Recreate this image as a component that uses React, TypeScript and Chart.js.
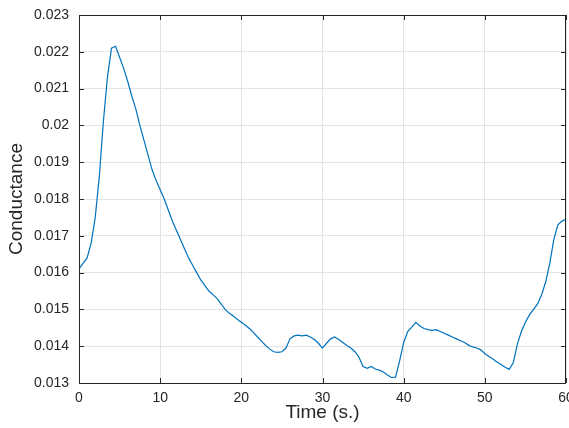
import React, { useEffect, useRef } from "react";
import { Chart, registerables } from "chart.js";

Chart.register(...registerables);

const times: number[] = [
  0, 0.5, 1, 1.5, 2, 2.5, 3, 3.5, 4, 4.5, 5, 5.5, 6, 6.5, 7, 7.5, 8, 8.5, 9, 9.5,
  10, 10.5, 11, 11.5, 12, 12.5, 13, 13.5, 14, 14.5, 15, 15.5, 16, 16.5, 17, 17.5, 18, 18.5, 19, 19.5,
  20, 20.5, 21, 21.5, 22, 22.5, 23, 23.5, 24, 24.5, 25, 25.5, 26, 26.5, 27, 27.5, 28, 28.5, 29, 29.5,
  30, 30.5, 31, 31.5, 32, 32.5, 33, 33.5, 34, 34.5, 35, 35.5, 36, 36.5, 37, 37.5, 38, 38.5, 39, 39.5,
  40, 40.5, 41, 41.5, 42, 42.5, 43, 43.5, 44, 44.5, 45, 45.5, 46, 46.5, 47, 47.5, 48, 48.5, 49, 49.5,
  50, 50.5, 51, 51.5, 52, 52.5, 53, 53.5, 54, 54.5, 55, 55.5, 56, 56.5, 57, 57.5, 58, 58.5, 59, 59.5, 60,
];

const conductance: number[] = [
  0.0161, 0.01625, 0.0164, 0.0168, 0.0175, 0.0186, 0.0201, 0.0213, 0.0221, 0.02215, 0.02185, 0.02155, 0.0212, 0.0208, 0.02045, 0.02, 0.0196, 0.0192, 0.0188, 0.0185,
  0.01825, 0.018, 0.0177, 0.0174, 0.01715, 0.0169, 0.01665, 0.0164, 0.0162, 0.016, 0.0158, 0.01565, 0.0155, 0.0154, 0.0153, 0.01515, 0.015, 0.0149, 0.01482, 0.01473,
  0.01465, 0.01457, 0.01448, 0.01437, 0.01425, 0.01413, 0.01402, 0.01392, 0.01385, 0.01383, 0.01385, 0.01395, 0.0142, 0.01428, 0.0143, 0.01428, 0.0143, 0.01425, 0.01418, 0.01408,
  0.01395, 0.01408, 0.0142, 0.01425, 0.01418, 0.0141, 0.01402, 0.01395, 0.01385, 0.0137, 0.01345, 0.0134, 0.01345, 0.01338, 0.01335, 0.0133, 0.01322, 0.01315, 0.01316, 0.0136,
  0.0141, 0.0144, 0.01452, 0.01465, 0.01455, 0.01448, 0.01445, 0.01443, 0.01445, 0.0144, 0.01435, 0.0143, 0.01425, 0.0142, 0.01415, 0.0141, 0.01403, 0.01398, 0.01395, 0.0139,
  0.0138, 0.01372, 0.01365, 0.01357, 0.0135, 0.01343, 0.01337, 0.01355, 0.01405, 0.0144, 0.01465, 0.01485, 0.015, 0.01515, 0.0154, 0.01575, 0.01625, 0.0169, 0.0173, 0.0174, 0.01745,
];

const xTicks: number[] = [0, 10, 20, 30, 40, 50, 60];
const yTicks: number[] = [0.013, 0.014, 0.015, 0.016, 0.017, 0.018, 0.019, 0.02, 0.021, 0.022, 0.023];

const FONT = "'Liberation Sans', Arial, Helvetica, sans-serif";
const AXIS_COLOR = "#262626";

const boxPlugin = {
  id: "matlabBox",
  afterDatasetsDraw(chart: any) {
    const { ctx, chartArea, scales } = chart;
    const { left, right, top, bottom } = chartArea;
    ctx.save();
    ctx.strokeStyle = AXIS_COLOR;
    ctx.lineWidth = 1;
    ctx.beginPath();
    ctx.rect(Math.round(left) + 0.5, Math.round(top) + 0.5, Math.round(right - left) - 1, Math.round(bottom - top));
    ctx.stroke();
    const tl = 5;
    ctx.beginPath();
    xTicks.forEach((v) => {
      const x = Math.round(scales.x.getPixelForValue(v)) + 0.5;
      ctx.moveTo(x, bottom);
      ctx.lineTo(x, bottom - tl);
      ctx.moveTo(x, top);
      ctx.lineTo(x, top + tl);
    });
    yTicks.forEach((v) => {
      const y = Math.round(scales.y.getPixelForValue(v)) + 0.5;
      ctx.moveTo(left, y);
      ctx.lineTo(left + tl, y);
      ctx.moveTo(right, y);
      ctx.lineTo(right - tl, y);
    });
    ctx.stroke();
    ctx.restore();
  },
};

export default function App() {
  const ref = useRef<HTMLCanvasElement | null>(null);

  useEffect(() => {
    if (!ref.current) return;
    const data = times.map((t, i) => ({ x: t, y: conductance[i] }));
    const chart = new Chart(ref.current, {
      type: "line",
      data: {
        datasets: [
          {
            data,
            borderColor: "#0072BD",
            borderWidth: 1.2,
            pointRadius: 0,
            tension: 0,
            fill: false,
          },
        ],
      },
      options: {
        animation: false,
        responsive: false,
        maintainAspectRatio: false,
        layout: { padding: { top: 15, right: 3, left: 0, bottom: 0 } },
        plugins: { legend: { display: false }, tooltip: { enabled: false } },
        scales: {
          x: {
            type: "linear",
            min: 0,
            max: 60,
            afterBuildTicks: (scale: any) => {
              scale.ticks = xTicks.map((v) => ({ value: v }));
            },
            afterFit: (scale: any) => {
              scale.height = 45;
              scale.paddingRight = 0;
              scale.paddingLeft = 0;
            },
            grid: { color: "#e3e3e3", lineWidth: 1, drawTicks: false },
            border: { display: false },
            ticks: {
              color: AXIS_COLOR,
              font: { family: FONT, size: 14 },
              padding: 7,
              maxRotation: 0,
              callback: (v: any) => String(v),
            },
            title: {
              display: true,
              text: "Time (s.)",
              color: AXIS_COLOR,
              font: { family: FONT, size: 19 },
              padding: { top: 0, bottom: 4 },
            },
          },
          y: {
            type: "linear",
            min: 0.013,
            max: 0.023,
            afterBuildTicks: (scale: any) => {
              scale.ticks = yTicks.map((v) => ({ value: v }));
            },
            afterFit: (scale: any) => {
              scale.width = 79;
              scale.paddingTop = 0;
              scale.paddingBottom = 0;
            },
            grid: { color: "#e3e3e3", lineWidth: 1, drawTicks: false },
            border: { display: false },
            ticks: {
              color: AXIS_COLOR,
              font: { family: FONT, size: 14 },
              padding: 10,
              callback: (v: any) => String(Number(Number(v).toFixed(3))),
            },
            title: {
              display: true,
              text: "Conductance",
              color: AXIS_COLOR,
              font: { family: FONT, size: 19 },
              padding: { top: 5, bottom: 0 },
            },
          },
        },
      },
      plugins: [boxPlugin],
    });
    return () => chart.destroy();
  }, []);

  return (
    <div style={{ position: "fixed", left: 0, top: 0, width: 569, height: 428, background: "#fff" }}>
      <canvas ref={ref} width={569} height={428} style={{ width: 569, height: 428 }} />
    </div>
  );
}
